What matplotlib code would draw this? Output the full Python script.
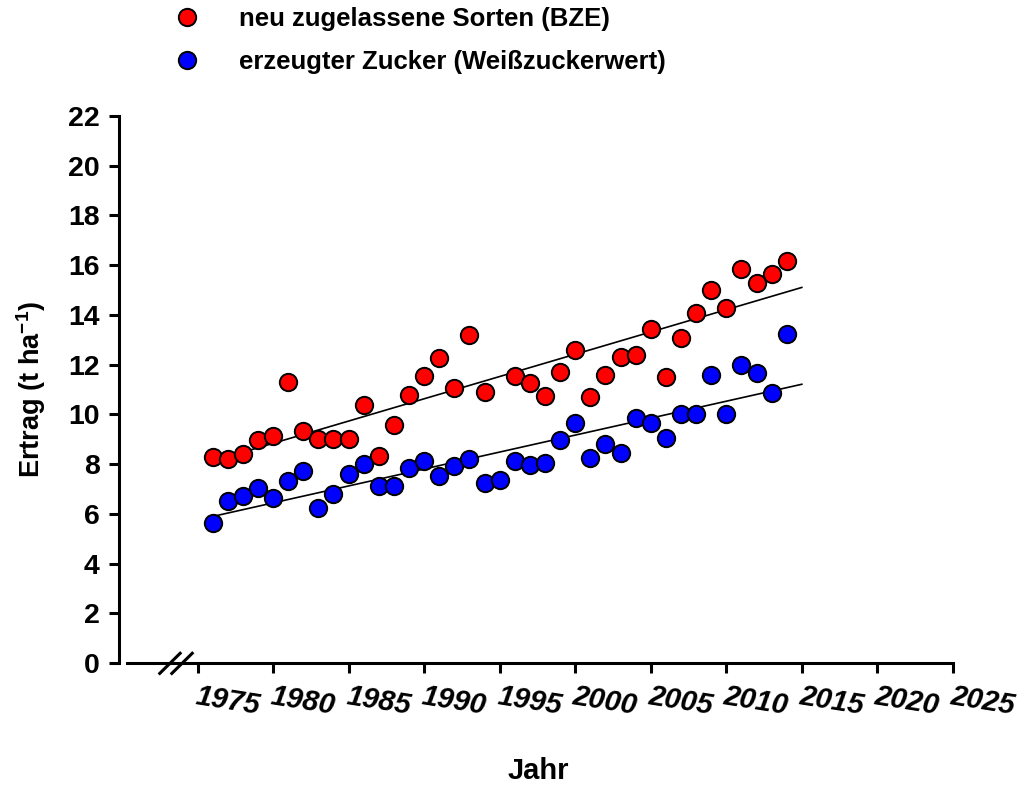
import numpy as np
import matplotlib
matplotlib.use('Agg')
import matplotlib.pyplot as plt

plt.rcParams['font.family'] = ['Liberation Sans', 'DejaVu Sans']
plt.rcParams['font.weight'] = 'bold'
plt.rcParams['mathtext.fontset'] = 'custom'
plt.rcParams['mathtext.rm'] = 'Liberation Sans:bold'
plt.rcParams['mathtext.default'] = 'rm'

# Daten
jahre_bze = [1976, 1977, 1978, 1979, 1980, 1981, 1982, 1983, 1984, 1985,
             1986, 1987, 1988, 1989, 1990, 1991, 1992, 1993, 1994,
             1996, 1997, 1998, 1999, 2000, 2001, 2002, 2003, 2004, 2005,
             2006, 2007, 2008, 2009, 2010, 2011, 2012, 2013, 2014]
ertrag_bze = [8.27, 8.2, 8.39, 8.97, 9.14, 11.29, 9.34, 9.01, 9.01, 9.01,
              10.38, 8.34, 9.56, 10.78, 11.56, 12.27, 11.05, 13.19, 10.91,
              11.54, 11.25, 10.74, 11.69, 12.59, 10.71, 11.58, 12.32, 12.4, 13.45,
              11.49, 13.07, 14.08, 15.0, 14.28, 15.84, 15.3, 15.64, 16.18]

jahre_zucker = list(range(1976, 2015))
ertrag_zucker = [5.62, 6.5, 6.72, 7.03, 6.62, 7.32, 7.72, 6.22, 6.81, 7.62,
                 8.02, 7.12, 7.12, 7.83, 8.13, 7.51, 7.91, 8.21, 7.24, 7.37,
                 8.14, 7.96, 8.03, 8.97, 9.64, 8.26, 8.81, 8.46, 9.84, 9.64,
                 9.06, 10.02, 10.02, 11.58, 10.02, 11.99, 11.65, 10.87, 13.25]

labels = ['neu zugelassene Sorten (BZE)', 'erzeugter Zucker (Weißzuckerwert)']
xticks = list(range(1975, 2030, 5))
yticks = list(range(0, 24, 2))

fig = plt.figure(figsize=(10.22, 7.87), dpi=100)
ax = fig.add_axes([0.1164, 0.1576, 0.816, 0.695])

# Regressionsgeraden
xfit = np.array([1976, 2015])
for xs, ys in [(jahre_bze, ertrag_bze), (jahre_zucker, ertrag_zucker)]:
    k, d = np.polyfit(xs, ys, 1)
    ax.plot(xfit, k * xfit + d, color='black', lw=1.2, zorder=2)

h1, = ax.plot(jahre_bze, ertrag_bze, 'o', ms=12.5, mfc='#ff0000', mec='black',
              mew=1.4, zorder=3)
h2, = ax.plot(jahre_zucker, ertrag_zucker, 'o', ms=12.5, mfc='#0000ff', mec='black',
              mew=1.4, zorder=3)

ax.set_xlim(1969.8, 2025)
ax.set_ylim(0, 22)
ax.spines['top'].set_visible(False)
ax.spines['right'].set_visible(False)
for s in ['left', 'bottom']:
    ax.spines[s].set_linewidth(2.2)
ax.spines['bottom'].set_bounds(1970.3, 2025)

ax.set_yticks(yticks)
ax.set_yticklabels([str(v) for v in yticks], fontsize=20.5, fontweight='bold')
ax.set_xticks(xticks)
ax.set_xticklabels([])
ax.tick_params(axis='both', direction='out', length=7, width=2.2)
ax.tick_params(axis='y', pad=7)

for yr in xticks:
    ax.annotate(str(yr), xy=(yr, 0), xycoords='data', xytext=(0, -14),
                textcoords='offset points', ha='left', va='top', rotation=-9,
                rotation_mode='anchor', fontsize=21, fontweight='bold',
                fontstyle='italic', annotation_clip=False)

# Achsenbruch
for x0 in [1972.5, 1973.3]:
    ax.plot([x0, x0 + 1.35], [-0.42, 0.39], color='black', lw=2.2, clip_on=False,
            zorder=5)

ax.set_ylabel(r'Ertrag (t ha$^{-1}$)', fontsize=19.5, fontweight='bold', labelpad=14)
fig.text(0.527, 0.003, 'Jahr', fontsize=21, fontweight='bold', ha='center',
         va='bottom')

fig.legend([h1, h2], labels, loc='upper left', bbox_to_anchor=(0.148, 1.02),
           frameon=False, handletextpad=1.5, labelspacing=0.72,
           handlelength=1.0, prop={'weight': 'bold', 'size': 18.5})

fig.savefig('out.png', dpi=100)
